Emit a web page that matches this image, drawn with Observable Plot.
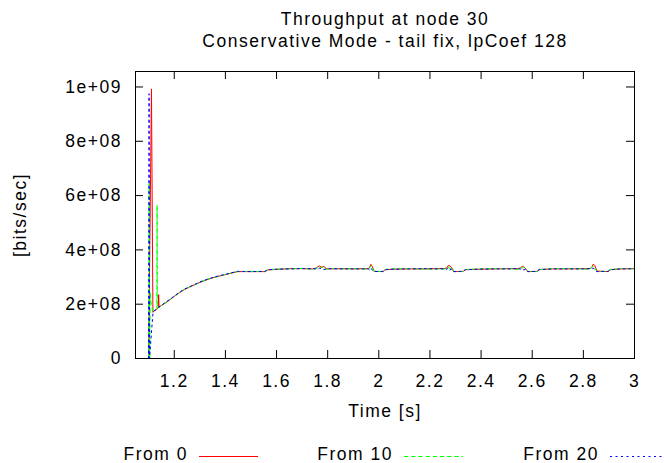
<!DOCTYPE html>
<html><head><meta charset="utf-8">
<script src="https://cdn.jsdelivr.net/npm/d3@7"></script>
<script src="https://cdn.jsdelivr.net/npm/@observablehq/plot@0.6"></script>
<style>body{margin:0;background:#fff}</style>
</head><body><div id="chart"></div>
<script>
// ---- data (values in units of 1e8 bits/sec) ----
const seriesNames = ["From 0", "From 10", "From 20"];
const seriesColors = ["#ff0000", "#00ff00", "#0000ff"];
const seriesDash = [null, "4.3,2.9", "2,3.5"];

// start-up transient, per series
const headTime0 = [1.1000, 1.1108, 1.1165, 1.1211, 1.128, 1.134, 1.1375, 1.139, 1.1405];
const headVal0  = [0, 9.93, 1.70, 1.75, 1.79, 1.83, 1.86, 2.35, 1.88];
const headTime10 = [1.1000, 1.1022, 1.1040, 1.1058, 1.1085, 1.1165, 1.1211, 1.128, 1.1322, 1.1328, 1.1336, 1.139];
const headVal10  = [0, 6.45, 0, 2.45, 2.10, 1.74, 1.76, 1.80, 1.85, 5.65, 1.86, 1.88];
const headTime20 = [1.0995, 1.1015, 1.1032, 1.1170, 1.1211, 1.128, 1.134, 1.139];
const headVal20  = [0, 9.75, 0, 1.72, 1.76, 1.80, 1.85, 1.89];

// steady part, shared sample times
const tailTime = [1.145, 1.16, 1.18, 1.20, 1.22, 1.24, 1.26, 1.28, 1.30, 1.33, 1.36, 1.40, 1.447, 1.50, 1.555, 1.565, 1.60, 1.65, 1.70, 1.74, 1.755, 1.762, 1.768, 1.776, 1.785, 1.795, 1.82, 1.86, 1.90, 1.94, 1.958, 1.964, 1.969, 1.975, 1.981, 2.017, 2.024, 2.06, 2.12, 2.18, 2.23, 2.255, 2.266, 2.272, 2.278, 2.286, 2.293, 2.330, 2.338, 2.40, 2.46, 2.52, 2.545, 2.555, 2.561, 2.567, 2.575, 2.582, 2.619, 2.627, 2.68, 2.74, 2.80, 2.825, 2.833, 2.839, 2.845, 2.853, 2.897, 2.905, 2.95, 3.00];
const tailVal0 = [1.92, 2.01, 2.14, 2.29, 2.42, 2.54, 2.63, 2.72, 2.80, 2.91, 3.00, 3.09, 3.20, 3.20, 3.20, 3.26, 3.28, 3.31, 3.31, 3.30, 3.33, 3.38, 3.41, 3.36, 3.39, 3.31, 3.30, 3.31, 3.30, 3.31, 3.30, 3.36, 3.47, 3.38, 3.21, 3.20, 3.27, 3.29, 3.30, 3.30, 3.31, 3.31, 3.33, 3.43, 3.41, 3.33, 3.20, 3.21, 3.27, 3.29, 3.30, 3.31, 3.31, 3.34, 3.40, 3.38, 3.30, 3.20, 3.21, 3.28, 3.30, 3.30, 3.31, 3.31, 3.35, 3.48, 3.42, 3.22, 3.20, 3.27, 3.30, 3.31];
const tailVal10 = [1.91, 2.02, 2.15, 2.28, 2.43, 2.55, 2.64, 2.71, 2.81, 2.92, 2.99, 3.10, 3.20, 3.21, 3.20, 3.27, 3.29, 3.30, 3.32, 3.29, 3.31, 3.35, 3.30, 3.38, 3.33, 3.29, 3.31, 3.30, 3.31, 3.30, 3.28, 3.34, 3.42, 3.36, 3.22, 3.20, 3.28, 3.30, 3.31, 3.29, 3.30, 3.29, 3.36, 3.38, 3.30, 3.35, 3.21, 3.20, 3.28, 3.30, 3.31, 3.30, 3.28, 3.36, 3.33, 3.37, 3.28, 3.21, 3.20, 3.27, 3.31, 3.31, 3.30, 3.28, 3.37, 3.40, 3.31, 3.21, 3.21, 3.28, 3.31, 3.30];
const tailVal20 = [1.93, 2.03, 2.16, 2.30, 2.44, 2.56, 2.64, 2.73, 2.82, 2.92, 3.01, 3.10, 3.21, 3.20, 3.21, 3.27, 3.29, 3.30, 3.31, 3.31, 3.30, 3.28, 3.33, 3.30, 3.27, 3.30, 3.31, 3.30, 3.30, 3.30, 3.31, 3.26, 3.33, 3.25, 3.20, 3.21, 3.27, 3.29, 3.30, 3.31, 3.30, 3.31, 3.28, 3.34, 3.26, 3.30, 3.20, 3.21, 3.27, 3.29, 3.30, 3.30, 3.31, 3.29, 3.33, 3.26, 3.29, 3.20, 3.21, 3.27, 3.30, 3.30, 3.30, 3.31, 3.29, 3.33, 3.25, 3.20, 3.21, 3.27, 3.30, 3.31];

const xTicks = [1.2, 1.4, 1.6, 1.8, 2, 2.2, 2.4, 2.6, 2.8, 3];
const yTicks = [0, 2e8, 4e8, 6e8, 8e8, 1e9];
const yTickLabels = ["0", "2e+08", "4e+08", "6e+08", "8e+08", "1e+09"];
const titleLines = ["Throughput at node 30", "Conservative Mode - tail fix, lpCoef 128"];
const xLabel = "Time [s]";
const yLabel = "[bits/sec]";

// ---- table ----
const heads = [[headTime0, headVal0], [headTime10, headVal10], [headTime20, headVal20]];
const tails = [tailVal0, tailVal10, tailVal20];
const rows = [];
seriesNames.forEach((name, i) => {
  heads[i][0].forEach((t, j) => rows.push({series: name, t, v: heads[i][1][j] * 1e8}));
  tailTime.forEach((t, j) => rows.push({series: name, t, v: tails[i][j] * 1e8}));
});

const W = 664, H = 463, mT = 71, mB = 105, mL = 135, mR = 30;
const plotW = W - mL - mR, plotH = H - mT - mB;
const font = "Liberation Sans, Arial, Helvetica, sans-serif";
const FS = 17.5;

const chart = Plot.plot({
  width: W, height: H,
  marginTop: mT, marginBottom: mB, marginLeft: mL, marginRight: mR,
  style: {fontFamily: font, fontSize: FS + "px", letterSpacing: "1.5px", background: "white", color: "black", overflow: "visible"},
  x: {domain: [1.0484, 3]},
  y: {domain: [0, 1.057e9]},
  marks: [
    Plot.axisX(xTicks, {tickSize: 0, tickPadding: 16.5, tickFormat: d3.format("~g"), fontSize: FS, label: null}),
    Plot.axisY(yTicks, {tickSize: 0, tickPadding: 13.5, tickFormat: d => yTickLabels[yTicks.indexOf(d)], fontSize: FS, label: null}),
    ...seriesNames.map((name, i) => Plot.line(rows.filter(r => r.series === name), {
      x: "t", y: "v", stroke: seriesColors[i], strokeWidth: 1, strokeDasharray: seriesDash[i]
    })),
    Plot.tickX(xTicks, {x: d => d, insetTop: plotH - 8, stroke: "black"}),
    Plot.tickX(xTicks, {x: d => d, insetBottom: plotH - 8, stroke: "black"}),
    Plot.tickY(yTicks, {y: d => d, insetRight: plotW - 8, stroke: "black"}),
    Plot.tickY(yTicks, {y: d => d, insetLeft: plotW - 8, stroke: "black"}),
    Plot.frame({stroke: "black", strokeWidth: 1}),
    Plot.text([xLabel], {text: d => d, frameAnchor: "bottom", dy: 52.4, fontSize: FS, lineAnchor: "middle", textAnchor: "middle"}),
    Plot.text([yLabel], {text: d => d, frameAnchor: "left", dx: -115.5, rotate: -90, fontSize: FS, lineAnchor: "middle", textAnchor: "middle"}),
    Plot.text([titleLines[0]], {text: d => d, frameAnchor: "top", dy: -52.6, fontSize: FS, lineAnchor: "middle", textAnchor: "middle"}),
    Plot.text([titleLines[1]], {text: d => d, frameAnchor: "top", dy: -29.8, fontSize: FS, lineAnchor: "middle", textAnchor: "middle"})
  ]
});
document.getElementById("chart").appendChild(chart);

// ---- legend (below the plot) ----
const svg = d3.select(chart);
const legend = svg.append("g").attr("font-family", font).attr("font-size", FS).attr("letter-spacing", "1.5px");
const legendTextRight = [188, 393, 599];
const legendY = 454;
seriesNames.forEach((name, i) => {
  legend.append("text").attr("x", legendTextRight[i]).attr("y", legendY).attr("dy", "0.35em")
    .attr("text-anchor", "end").attr("fill", "black").text(name);
  legend.append("line").attr("x1", legendTextRight[i] + 11).attr("x2", legendTextRight[i] + 70)
    .attr("y1", legendY + 2.5).attr("y2", legendY + 2.5)
    .attr("stroke", seriesColors[i]).attr("stroke-width", 1)
    .attr("stroke-dasharray", seriesDash[i]);
});
</script></body></html>
